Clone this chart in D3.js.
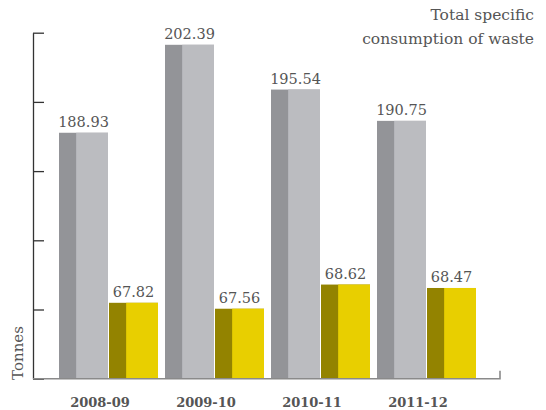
<!DOCTYPE html>
<html>
<head>
<meta charset="utf-8">
<script src="https://cdn.jsdelivr.net/npm/d3@7/dist/d3.min.js"></script>
<style>
  html, body { margin: 0; padding: 0; background: #fff; }
  svg { display: block; }
  text { font-family: "DejaVu Serif", serif; fill: #555; }
</style>
</head>
<body>
<svg id="chart" width="546" height="410"></svg>
<script>
// Financial years and the two series (tonnes)
const years = ["2008-09", "2009-10", "2010-11", "2011-12"];
const totalConsumption = [188.93, 202.39, 195.54, 190.75];
const wasteConsumption = [67.82, 67.56, 68.62, 68.47];
const seriesKeys = ["total", "waste"];
const titleLines = ["Total specific", "consumption of waste"];
const yAxisLabel = "Tonnes";

const svg = d3.select("#chart");

const plotLeft = 33, plotRight = 500, plotTop = 32.7, plotBottom = 378.7;

// Each series has its own value scale (axis carries no numbers)
const yTotal = d3.scaleLinear().domain([151.3, 204.24]).range([plotBottom, plotTop]);
const yWaste = d3.scaleLinear().domain([64.49, 79.67]).range([plotBottom, plotTop]);

const x0 = d3.scaleBand().domain(years).range([59, 483]).padding(0);
const x1 = d3.scaleBand().domain(seriesKeys).range([0, 99]).paddingInner(0.02);

const palette = {
  total: { dark: "#939498", light: "#bbbcc0" },
  waste: { dark: "#938300", light: "#e8cf00" }
};

const rows = years.map((yr, i) => ({
  year: yr,
  bars: [
    { key: "total", value: totalConsumption[i], y: yTotal },
    { key: "waste", value: wasteConsumption[i], y: yWaste }
  ]
}));

// Bars: a darker left strip and a lighter face
const groups = svg.selectAll("g.group")
  .data(rows).join("g")
  .attr("class", "group")
  .attr("transform", d => `translate(${x0(d.year)},0)`);

const bw = x1.bandwidth();
const stripW = bw * 0.35;

const bar = groups.selectAll("g.bar").data(d => d.bars).join("g").attr("class", "bar");

bar.append("rect")
  .attr("x", d => x1(d.key))
  .attr("y", d => d.y(d.value))
  .attr("width", bw)
  .attr("height", d => plotBottom - d.y(d.value))
  .attr("fill", d => palette[d.key].dark);

bar.append("rect")
  .attr("x", d => x1(d.key) + stripW)
  .attr("y", d => d.y(d.value))
  .attr("width", bw - stripW)
  .attr("height", d => plotBottom - d.y(d.value))
  .attr("fill", d => palette[d.key].light);

bar.append("text")
  .attr("x", d => x1(d.key) + bw / 2)
  .attr("y", d => d.y(d.value) - 6)
  .attr("text-anchor", "middle")
  .style("font-size", "14.5px")
  .text(d => d.value.toFixed(2));

// Y axis with unlabelled inward ticks
const tickVals = d3.range(6).map(i => yTotal.domain()[0] + i * (yTotal.domain()[1] - yTotal.domain()[0]) / 5);
const yAxisG = svg.append("g")
  .attr("transform", `translate(${plotLeft},0)`)
  .call(d3.axisLeft(yTotal).tickValues(tickVals).tickSize(-11).tickSizeOuter(0).tickFormat(""));
yAxisG.select(".domain").attr("stroke", "#333").attr("stroke-width", 1.3);
yAxisG.selectAll(".tick line").attr("stroke", "#333").attr("stroke-width", 1.3);

// X axis baseline with a short end tick
svg.append("path")
  .attr("d", `M${plotLeft},${plotBottom}H${plotRight}V${plotBottom - 8}`)
  .attr("fill", "none")
  .attr("stroke", "#8a8a8a")
  .attr("stroke-width", 1.6);

const xAxisG = svg.append("g")
  .attr("transform", `translate(0,${plotBottom})`)
  .call(d3.axisBottom(x0).tickSize(0).tickPadding(0));
xAxisG.select(".domain").remove();
xAxisG.selectAll(".tick text")
  .attr("dx", -12)
  .attr("dy", 0)
  .attr("y", 28)
  .style("font-size", "13px")
  .style("font-weight", "bold")
  .style("fill", "#555");

// Y axis title
svg.append("text")
  .attr("transform", `translate(23,353) rotate(-90)`)
  .attr("text-anchor", "middle")
  .style("font-size", "15px")
  .text(yAxisLabel);

// Chart title, right aligned
svg.append("text")
  .attr("text-anchor", "end")
  .style("font-size", "15.5px")
  .selectAll("tspan").data(titleLines).join("tspan")
  .attr("x", 534)
  .attr("y", (d, i) => 20 + i * 24)
  .text(d => d);
</script>
</body>
</html>
